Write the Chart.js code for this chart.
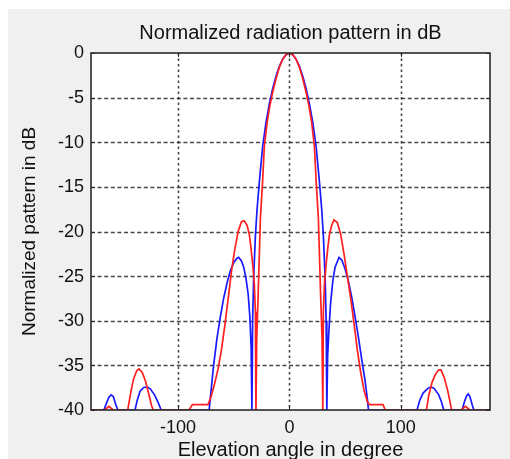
<!DOCTYPE html>
<html>
<head>
<meta charset="utf-8">
<script src="https://cdn.jsdelivr.net/npm/chart.js@4.4.1/dist/chart.umd.min.js"></script>
<style>
  body { margin: 0; background: #fff; }
  #bg { position: absolute; left: 8px; top: 9px; width: 502px; height: 450px; background: #f0f0f0; }
  #chart { position: absolute; left: 0; top: 0; }
</style>
</head>
<body>
<div id="bg"></div>
<canvas id="chart" width="510" height="459"></canvas>
<script>
// DATA (angle in degree, normalized pattern in dB)
const redAngles = [-180, -166, -164, -162, -160, -158, -145, -143, -140, -137, -135, -132, -129, -126, -123.5, -122,
  -90, -87, -73, -70, -67, -64, -61, -58, -55, -52, -49, -46, -43, -40.5, -38, -36, -34.5, -33, -31.5, -30.5, -30,
  -29.3, -28, -26, -24, -22.5, -20, -17.5, -15, -12, -9, -6, -3, 0,
  3, 6, 9, 12, 15, 17.5, 20, 22.5, 24, 26, 28, 29.3, 30, 30.5, 31.5, 33, 34.5, 36, 38, 40, 43, 46, 49, 52, 55, 58,
  61, 64, 67, 70, 72, 84, 86, 123, 125, 128, 131, 134, 136, 139, 142, 144, 145.5, 154, 156, 158, 160, 162, 180];
const redDb = [-40, -40, -39.8, -39.6, -39.8, -40, -40, -38.5, -36.6, -35.6, -35.4, -35.8, -36.8, -38.3, -39.6, -40,
  -40, -39.4, -39.4, -38.4, -37, -35.4, -33.3, -30.6, -27.6, -24.5, -22, -20, -18.9, -18.8, -19.3, -20.3, -21.8, -23.6, -25.8, -29, -40,
  -32, -27, -18.5, -14.3, -10.5, -7.8, -5.9, -4.4, -2.9, -1.6, -0.7, -0.2, 0,
  -0.2, -0.7, -1.6, -2.9, -4.4, -5.9, -7.8, -10.5, -14.3, -18.5, -27, -32, -40, -29, -25.8, -23.6, -21.8, -20.3, -19.3, -18.7, -19, -20.3, -22.5, -25, -27.5, -30.3,
  -33.3, -35.8, -37.8, -39.1, -39.4, -39.4, -40, -40, -38.4, -36.9, -36, -35.5, -35.5, -36.4, -37.8, -39, -40, -40, -39.8, -39.6, -39.8, -40, -40];

const blueAngles = [-180, -166.5, -164, -162, -160, -158, -156, -154, -138.5, -136.5, -134, -131, -128, -125, -121, -118, -115,
  -72, -70, -68, -65, -62, -59, -56, -53, -50, -47, -45.5, -43, -41, -39, -37, -35.5, -34.3, -33.6,
  -33, -32, -30.5, -29, -27, -24, -21, -18, -15, -12, -9, -6, -3, 0,
  3, 6, 9, 12, 15, 18, 21, 24, 27, 29, 30.5, 32, 33, 33.6, 34.3, 35.5, 37, 39, 41, 44.5, 47, 50, 53, 56, 59, 62, 65, 68, 70, 71,
  114.5, 117, 120, 124, 127, 130, 134, 136.5, 138.5, 155, 157, 159, 160.5, 162, 164, 165.5, 180];
const blueDb = [-40, -40, -39.2, -38.6, -38.3, -38.5, -39.3, -40, -40, -38.9, -37.9, -37.5, -37.4, -37.6, -38.3, -39.1, -40,
  -40, -37.5, -35, -32, -29.6, -27.5, -25.8, -24.4, -23.5, -23, -22.9, -23.3, -24, -25.2, -27, -29.5, -33, -40,
  -30, -25, -20.5, -17.5, -14.5, -10.5, -7.8, -5.7, -4, -2.6, -1.5, -0.7, -0.2, 0,
  -0.2, -0.7, -1.5, -2.6, -4, -5.7, -7.8, -10.5, -14.5, -17.5, -20.5, -25, -30, -40, -34, -31, -28, -25.5, -24, -22.9, -23.2, -24.2, -25.6, -27.4, -29.6, -31.9, -34.4, -36.8, -38.8, -40,
  -40, -38.9, -38.1, -37.6, -37.4, -37.6, -38.3, -39.1, -40, -40, -39.1, -38.4, -38.2, -38.5, -39.4, -40, -40];

const xTicks = [-100, 0, 100];
const yTicks = [0, -5, -10, -15, -20, -25, -30, -35, -40];

const titleText = "Normalized radiation pattern in dB";
const xLabel = "Elevation angle in degree";
const yLabel = "Normalized pattern in dB";

const FONT = '"Liberation Sans", Arial, sans-serif';

function pairs(xs, ys) {
  return xs.map((x, i) => ({ x: x, y: ys[i] }));
}

// frame, grid, ticks and labels drawn MATLAB style
const frame = {
  id: "frame",
  beforeDraw(chart) {
    const a = chart.chartArea, ctx = chart.ctx;
    ctx.save();
    ctx.fillStyle = "#fff";
    ctx.fillRect(a.left, a.top, a.right - a.left, a.bottom - a.top);
    ctx.restore();
  },
  beforeDatasetsDraw(chart) {
    const a = chart.chartArea, ctx = chart.ctx;
    const xs = chart.scales.x, ys = chart.scales.y;
    ctx.save();
    ctx.strokeStyle = "rgba(25,25,25,0.8)";
    ctx.lineWidth = 1.6;
    ctx.setLineDash([4, 2.6]);
    yTicks.forEach(v => {
      if (v === 0 || v === -40) return;
      const y = Math.round(ys.getPixelForValue(v)) + 0.5;
      ctx.beginPath(); ctx.moveTo(a.left, y); ctx.lineTo(a.right, y); ctx.stroke();
    });
    ctx.setLineDash([2.5, 3]);
    xTicks.forEach(v => {
      const x = Math.round(xs.getPixelForValue(v)) + 0.5;
      ctx.beginPath(); ctx.moveTo(x, a.top); ctx.lineTo(x, a.bottom); ctx.stroke();
    });
    ctx.restore();
  },
  afterDatasetsDraw(chart) {
    const a = chart.chartArea, ctx = chart.ctx;
    const xs = chart.scales.x, ys = chart.scales.y;
    ctx.save();
    ctx.strokeStyle = "#2a2a2a";
    ctx.lineWidth = 1.6;
    ctx.strokeRect(a.left, a.top, a.right - a.left, a.bottom - a.top);
    // inward tick marks
    ctx.lineWidth = 1;
    xTicks.forEach(v => {
      const x = Math.round(xs.getPixelForValue(v)) + 0.5;
      ctx.beginPath();
      ctx.moveTo(x, a.bottom); ctx.lineTo(x, a.bottom - 4);
      ctx.moveTo(x, a.top); ctx.lineTo(x, a.top + 4);
      ctx.stroke();
    });
    yTicks.forEach(v => {
      const y = Math.round(ys.getPixelForValue(v)) + 0.5;
      ctx.beginPath();
      ctx.moveTo(a.left, y); ctx.lineTo(a.left + 4, y);
      ctx.moveTo(a.right, y); ctx.lineTo(a.right - 4, y);
      ctx.stroke();
    });
    // tick labels
    ctx.fillStyle = "#111";
    ctx.font = "18px " + FONT;
    ctx.textAlign = "right";
    ctx.textBaseline = "middle";
    yTicks.forEach(v => {
      ctx.fillText(String(v), a.left - 7, ys.getPixelForValue(v) + 0.5);
    });
    ctx.textAlign = "center";
    ctx.textBaseline = "alphabetic";
    xTicks.forEach(v => {
      ctx.fillText(String(v), xs.getPixelForValue(v), a.bottom + 23);
    });
    // titles
    ctx.font = "20px " + FONT;
    ctx.fillText(titleText, (a.left + a.right) / 2, 39);
    ctx.fillText(xLabel, (a.left + a.right) / 2, 456);
    ctx.font = "19px " + FONT;
    ctx.translate(30, (a.top + a.bottom) / 2);
    ctx.rotate(-Math.PI / 2);
    ctx.textBaseline = "middle";
    ctx.fillText(yLabel, 0, 0);
    ctx.restore();
  }
};

const chart = new Chart(document.getElementById("chart"), {
  type: "line",
  data: {
    datasets: [{
      label: "red",
      data: pairs(redAngles, redDb),
      borderColor: "#ff2020",
      borderWidth: 1.7,
      pointRadius: 0,
      tension: 0
    }, {
      label: "blue",
      data: pairs(blueAngles, blueDb),
      borderColor: "#1a1aff",
      borderWidth: 1.7,
      pointRadius: 0,
      tension: 0
    }]
  },
  options: {
    responsive: false,
    animation: false,
    devicePixelRatio: 1,
    layout: { padding: { top: 53, right: 20, left: 0, bottom: 0 } },
    plugins: { legend: { display: false }, tooltip: { enabled: false } },
    scales: {
      x: {
        type: "linear", min: -178, max: 180,
        grid: { display: false }, border: { display: false },
        ticks: { display: false },
        afterFit: s => { s.height = 49; }
      },
      y: {
        min: -40, max: 0,
        grid: { display: false }, border: { display: false },
        ticks: { display: false },
        afterFit: s => { s.width = 91; }
      }
    }
  },
  plugins: [frame]
});
</script>
</body>
</html>
